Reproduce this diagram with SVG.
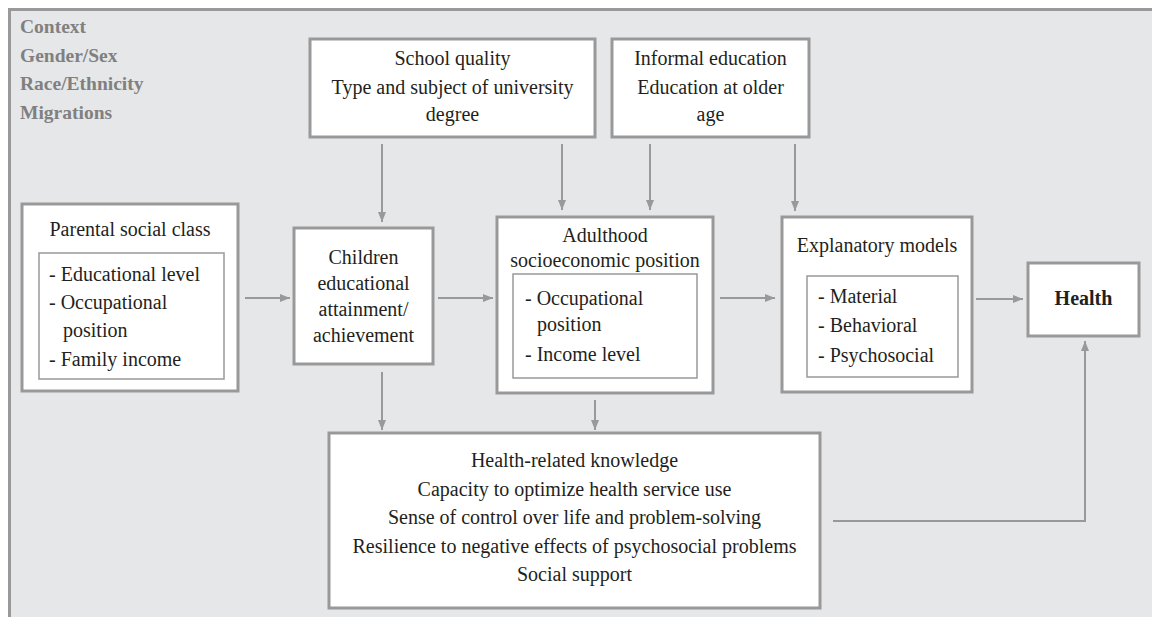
<svg xmlns="http://www.w3.org/2000/svg" width="1152" height="617" viewBox="0 0 1152 617">
<style>
.t{font-family:"Liberation Serif","Times New Roman",serif;font-size:20px;fill:#231f20}
.c{text-anchor:middle}
.b{font-weight:bold}
.ctx{font-family:"Liberation Serif","Times New Roman",serif;font-size:19.5px;font-weight:bold;fill:#808080}
.box{fill:#fff;stroke:#999;stroke-width:3}
.in{fill:#fff;stroke:#999;stroke-width:1.5}
.ln{fill:none;stroke:#999;stroke-width:2}
</style>
<defs>
<marker id="ah" markerUnits="userSpaceOnUse" markerWidth="10" markerHeight="8" refX="10" refY="4" orient="auto">
<path d="M0,0 L10,4 L0,8 z" fill="#999"/>
</marker>
</defs>
<rect width="1152" height="617" fill="#fff"/>
<rect id="frame" x="9.5" y="9.5" width="1160" height="620" fill="#e6e7e9" stroke="#999" stroke-width="3"/>
<g id="context">
<text class="ctx" x="20" y="33">Context</text>
<text class="ctx" x="20" y="61.5">Gender/Sex</text>
<text class="ctx" x="20" y="90">Race/Ethnicity</text>
<text class="ctx" x="20" y="118.5">Migrations</text>
</g>
<g id="connectors">
<path class="ln" d="M245,298 H290" marker-end="url(#ah)"/>
<path class="ln" d="M438,298 H493" marker-end="url(#ah)"/>
<path class="ln" d="M720,298 H775" marker-end="url(#ah)"/>
<path class="ln" d="M976,299 H1023" marker-end="url(#ah)"/>
<path class="ln" d="M382,144 V222" marker-end="url(#ah)"/>
<path class="ln" d="M562,144 V210" marker-end="url(#ah)"/>
<path class="ln" d="M650,144 V210" marker-end="url(#ah)"/>
<path class="ln" d="M795,144 V211" marker-end="url(#ah)"/>
<path class="ln" d="M382,372 V430" marker-end="url(#ah)"/>
<path class="ln" d="M595,400 V430" marker-end="url(#ah)"/>
<path class="ln" d="M833,521 H1085 V341" marker-end="url(#ah)"/>
</g>
<g id="school">
<rect class="box" x="310" y="39" width="285" height="98"/>
<text class="t c" x="452.5" y="65">School quality</text>
<text class="t c" x="452.5" y="93.5">Type and subject of university</text>
<text class="t c" x="452.5" y="121">degree</text>
</g>
<g id="informal">
<rect class="box" x="612" y="39" width="197" height="98"/>
<text class="t c" x="710.5" y="65">Informal education</text>
<text class="t c" x="710.5" y="93.5">Education at older</text>
<text class="t c" x="710.5" y="121">age</text>
</g>
<g id="parental">
<rect class="box" x="22" y="204" width="216" height="187"/>
<text class="t c" x="130" y="236">Parental social class</text>
<rect class="in" x="39" y="253" width="185" height="126"/>
<text class="t" x="49" y="281">- Educational level</text>
<text class="t" x="49" y="309">- Occupational</text>
<text class="t" x="63" y="336.5">position</text>
<text class="t" x="49" y="366">- Family income</text>
</g>
<g id="children">
<rect class="box" x="294" y="228" width="139" height="136"/>
<text class="t c" x="363.5" y="264">Children</text>
<text class="t c" x="363.5" y="290">educational</text>
<text class="t c" x="363.5" y="316">attainment/</text>
<text class="t c" x="363.5" y="342">achievement</text>
</g>
<g id="adulthood">
<rect class="box" x="497" y="217" width="216" height="176"/>
<text class="t c" x="605" y="242">Adulthood</text>
<text class="t c" x="605" y="267">socioeconomic position</text>
<rect class="in" x="513" y="274" width="184" height="104"/>
<text class="t" x="525" y="305">- Occupational</text>
<text class="t" x="537" y="330.5">position</text>
<text class="t" x="525" y="361">- Income level</text>
</g>
<g id="explanatory">
<rect class="box" x="782" y="217" width="190" height="175"/>
<text class="t c" x="877" y="252">Explanatory models</text>
<rect class="in" x="807" y="276" width="151" height="101"/>
<text class="t" x="818" y="303">- Material</text>
<text class="t" x="818" y="332">- Behavioral</text>
<text class="t" x="818" y="362">- Psychosocial</text>
</g>
<g id="health">
<rect class="box" x="1028" y="263" width="111" height="73"/>
<text class="t c b" x="1083.5" y="305">Health</text>
</g>
<g id="mechanisms">
<rect class="box" x="329" y="433" width="491" height="175"/>
<text class="t c" x="574.5" y="467">Health-related knowledge</text>
<text class="t c" x="574.5" y="495.5">Capacity to optimize health service use</text>
<text class="t c" x="574.5" y="524">Sense of control over life and problem-solving</text>
<text class="t c" x="574.5" y="552.5">Resilience to negative effects of psychosocial problems</text>
<text class="t c" x="574.5" y="581">Social support</text>
</g>
</svg>
